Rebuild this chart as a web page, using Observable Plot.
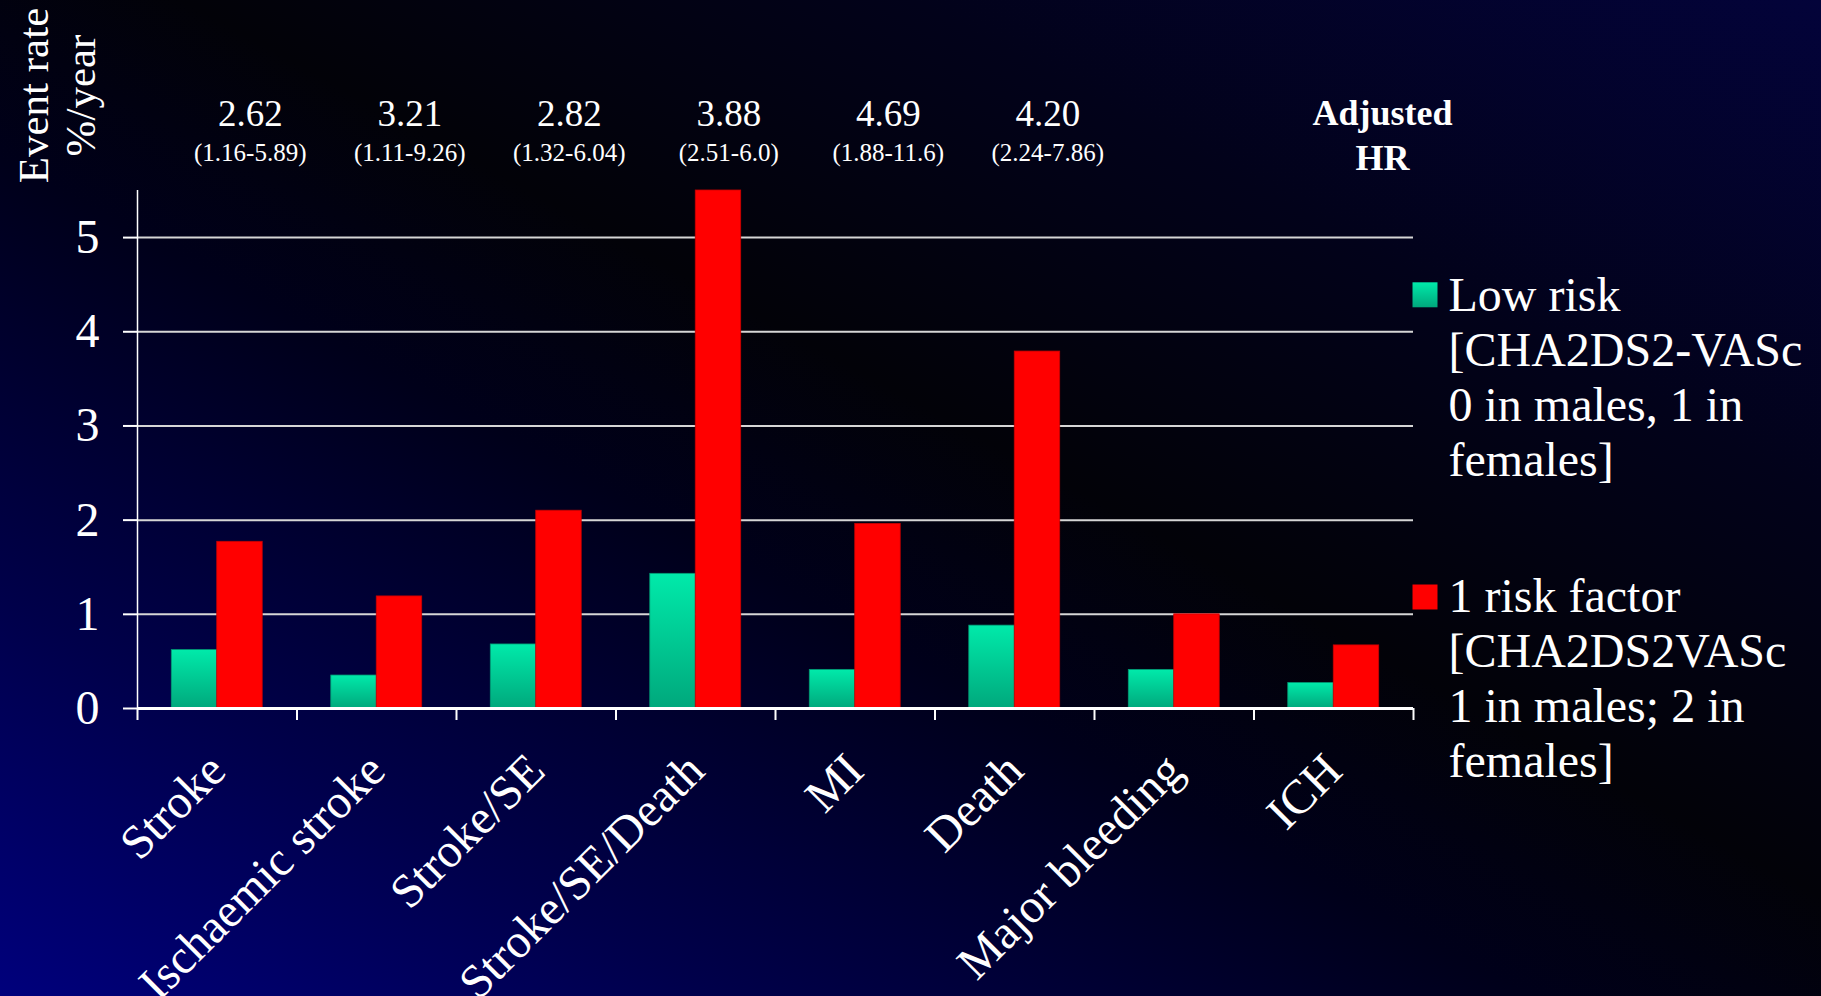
<!DOCTYPE html>
<html>
<head>
<meta charset="utf-8">
<script src="https://cdn.jsdelivr.net/npm/d3@7"></script>
<script src="https://cdn.jsdelivr.net/npm/@observablehq/plot@0.6"></script>
<style>
  html, body { margin: 0; padding: 0; width: 1821px; height: 996px; overflow: hidden; }
  body {
    background: linear-gradient(to top right, #00007c 0%, #00004a 20%, #00001a 42%, #020208 55%, #02021a 75%, #03033a 100%);
  }
  #chart { position: absolute; left: 0; top: 0; }
</style>
</head>
<body>
<div id="chart"></div>
<script>
// ---- data ----
const categories = ["Stroke", "Ischaemic stroke", "Stroke/SE", "Stroke/SE/Death", "MI", "Death", "Major bleeding", "ICH"];
const lowRisk = [0.62, 0.35, 0.68, 1.43, 0.41, 0.88, 0.41, 0.27];
const oneRiskFactor = [1.77, 1.19, 2.10, 5.50, 1.96, 3.79, 1.00, 0.67];
const hazardRatios = ["2.62", "3.21", "2.82", "3.88", "4.69", "4.20"];
const hrIntervals = ["(1.16-5.89)", "(1.11-9.26)", "(1.32-6.04)", "(2.51-6.0)", "(1.88-11.6)", "(2.24-7.86)"];
const hrHeader = "Adjusted\nHR";
const seriesNames = ["Low risk", "1 risk factor"];
const seriesNotes = ["[CHA2DS2-VASc\n0 in males, 1 in\nfemales]", "[CHA2DS2VASc\n1 in males; 2 in\nfemales]"];
const yTicks = [0, 1, 2, 3, 4, 5];
const yLabel = "Event rate\n%/year";

// ---- layout ----
const width = 1821, height = 996;
const marginLeft = 137, marginRight = 408, marginTop = 190, marginBottom = 288;
const bw = (width - marginLeft - marginRight) / categories.length;
const gap = 0.215 * bw, barW = 0.285 * bw;
const serif = "'Liberation Serif', 'Times New Roman', serif";

const rows = categories.flatMap((c, i) => [
  {category: c, series: seriesNames[0], value: lowRisk[i]},
  {category: c, series: seriesNames[1], value: oneRiskFactor[i]}
]);
const hrRows = hazardRatios.map((hr, i) => ({category: categories[i], hr, ci: hrIntervals[i]}));

const plot = Plot.plot({
  width, height, marginLeft, marginRight, marginTop, marginBottom,
  style: {background: "transparent", color: "white", fontFamily: serif},
  x: {type: "band", domain: categories, padding: 0, round: false},
  y: {domain: [0, 5.5]},
  marks: [
    Plot.ruleY(yTicks.filter(d => d > 0), {stroke: "#d6d6d6", strokeWidth: 2}),
    Plot.barY(rows.filter(d => d.series === seriesNames[0]), {
      x: "category", y: "value", fill: "url(#lowGrad)",
      insetLeft: gap, insetRight: bw - gap - barW, stroke: "#009a74", strokeWidth: 0.8
    }),
    Plot.barY(rows.filter(d => d.series === seriesNames[1]), {
      x: "category", y: "value", fill: "#ff0000",
      insetLeft: gap + barW, insetRight: gap, stroke: "#c80000", strokeWidth: 0.8
    }),
    Plot.ruleY([0], {stroke: "white", strokeWidth: 3}),
    Plot.ruleX([categories[0]], {dx: -bw / 2, stroke: "white", strokeWidth: 1.5}),
    Plot.axisY({ticks: yTicks, tickFormat: d => String(d), tickSize: 14, tickPadding: 24, fontSize: 48, strokeWidth: 2, label: null}),
    Plot.axisX({ticks: categories, tickSize: 12, tickFormat: () => "", dx: -bw / 2, strokeWidth: 2, label: null}),
    Plot.axisX({ticks: [categories[categories.length - 1]], tickSize: 12, tickFormat: () => "", dx: bw / 2, strokeWidth: 2, label: null}),
    Plot.axisX({tickSize: 0, tickRotate: -45, tickPadding: 54, fontSize: 48, label: null}),
    Plot.text(hrRows, {x: "category", text: "hr", frameAnchor: "top", lineAnchor: "middle", dy: -76, dx: 33, fontSize: 37, fill: "white"}),
    Plot.text(hrRows, {x: "category", text: "ci", frameAnchor: "top", lineAnchor: "middle", dy: -38, dx: 33, fontSize: 25, fill: "white"}),
    Plot.text([hrHeader], {frameAnchor: "top-right", text: d => d, textAnchor: "middle", lineAnchor: "middle",
      lineHeight: 1.24, fontSize: 36, fontWeight: "bold", dx: -31, dy: -57, fill: "white"}),
    Plot.text([yLabel], {frameAnchor: "top-left", text: d => d, rotate: -90, textAnchor: "middle", lineAnchor: "middle",
      lineHeight: 1.1, fontSize: 43, dx: -81, dy: -95, fill: "white"}),
    Plot.dot([seriesNames[0]], {frameAnchor: "top-right", symbol: "square", r: 14.1, fill: "url(#lowGrad)", stroke: null, dx: 11.5, dy: 104.3}),
    Plot.dot([seriesNames[1]], {frameAnchor: "top-right", symbol: "square", r: 14.1, fill: "#ff0000", stroke: null, dx: 11.5, dy: 406.5}),
    Plot.text([seriesNames[0] + "\n" + seriesNotes[0]], {frameAnchor: "top-right", text: d => d, textAnchor: "start", lineAnchor: "top",
      lineHeight: 1.146, fontSize: 48, dx: 35, dy: 81, fill: "white"}),
    Plot.text([seriesNames[1] + "\n" + seriesNotes[1]], {frameAnchor: "top-right", text: d => d, textAnchor: "start", lineAnchor: "top",
      lineHeight: 1.146, fontSize: 48, dx: 35, dy: 382, fill: "white"})
  ]
});

const svg = d3.select(plot);
const defs = svg.insert("defs", ":first-child");
const grad = defs.append("linearGradient").attr("id", "lowGrad").attr("x1", 0).attr("y1", 0).attr("x2", 0).attr("y2", 1);
grad.append("stop").attr("offset", "0%").attr("stop-color", "#00eaaa");
grad.append("stop").attr("offset", "100%").attr("stop-color", "#00a87c");

document.getElementById("chart").appendChild(plot);
</script>
</body>
</html>
